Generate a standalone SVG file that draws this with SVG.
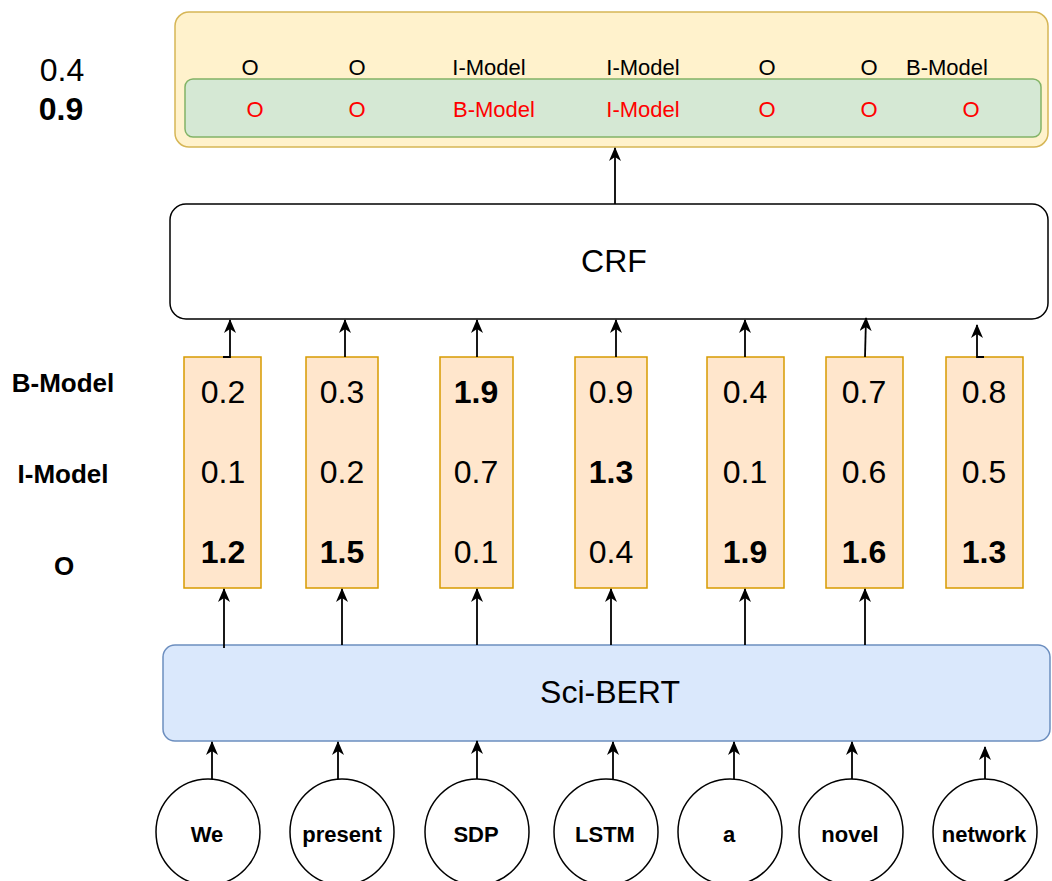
<svg xmlns="http://www.w3.org/2000/svg" width="1052" height="881" viewBox="0 0 1052 881">
<style>
text{font-family:"Liberation Sans",Arial,sans-serif;fill:#000;text-anchor:middle}
.big{font-size:32px}
.mid{font-size:22px}
.red{fill:#ff0000}
.lbl{font-size:26px;font-weight:bold}
.word{font-size:22px;font-weight:bold}
.b{font-weight:bold}
.score{fill:#ffe6cc;stroke:#d79b00;stroke-width:1.5}
.tok{fill:#fff;stroke:#000;stroke-width:1.5}
.edge{fill:none;stroke:#000;stroke-width:1.8;marker-end:url(#arr)}
</style>
<defs>
<marker id="arr" markerUnits="userSpaceOnUse" markerWidth="15" markerHeight="13" refX="13" refY="6" orient="auto">
<path d="M0,0 L14,6 L0,12 L4,6 z" fill="#000"/>
</marker>
</defs>
<rect width="1052" height="881" fill="#fff"/>

<g id="output">
<rect x="175" y="12" width="873" height="135" rx="14" fill="#fff2cc" stroke="#d6b656" stroke-width="1.5"/>
<text class="mid" x="250" y="75">O</text>
<text class="mid" x="357" y="75">O</text>
<text class="mid" x="489" y="75">I-Model</text>
<text class="mid" x="643" y="75">I-Model</text>
<text class="mid" x="767" y="75">O</text>
<text class="mid" x="869" y="75">O</text>
<text class="mid" x="947" y="75">B-Model</text>
</g>
<g id="best">
<rect x="185" y="79" width="856" height="58" rx="8" fill="#d5e8d4" stroke="#82b366" stroke-width="1.5"/>
<text class="mid red" x="255" y="117">O</text>
<text class="mid red" x="357" y="117">O</text>
<text class="mid red" x="494" y="117">B-Model</text>
<text class="mid red" x="643" y="117">I-Model</text>
<text class="mid red" x="767" y="117">O</text>
<text class="mid red" x="869" y="117">O</text>
<text class="mid red" x="971" y="117">O</text>
</g>
<g id="path-scores">
<text class="big" x="62" y="81">0.4</text>
<text class="big b" x="61" y="120">0.9</text>
</g>

<g id="crf">
<rect x="170" y="204" width="878" height="115" rx="16" fill="#fff" stroke="#000" stroke-width="1.5"/>
<text class="big" x="614" y="272">CRF</text>
</g>

<g id="labels">
<text class="lbl" x="63" y="392">B-Model</text>
<text class="lbl" x="63" y="483">I-Model</text>
<text class="lbl" x="64" y="575">O</text>
</g>

<g id="s1"><rect class="score" x="184" y="357" width="77" height="231"/>
<text class="big" x="223" y="403">0.2</text><text class="big" x="223" y="483">0.1</text><text class="big b" x="223" y="563">1.2</text></g>
<g id="s2"><rect class="score" x="306" y="357" width="72" height="231"/>
<text class="big" x="342" y="403">0.3</text><text class="big" x="342" y="483">0.2</text><text class="big b" x="342" y="563">1.5</text></g>
<g id="s3"><rect class="score" x="440" y="357" width="73" height="231"/>
<text class="big b" x="476" y="403">1.9</text><text class="big" x="476" y="483">0.7</text><text class="big" x="476" y="563">0.1</text></g>
<g id="s4"><rect class="score" x="575" y="357" width="72" height="231"/>
<text class="big" x="611" y="403">0.9</text><text class="big b" x="611" y="483">1.3</text><text class="big" x="611" y="563">0.4</text></g>
<g id="s5"><rect class="score" x="707" y="357" width="77" height="231"/>
<text class="big" x="745" y="403">0.4</text><text class="big" x="745" y="483">0.1</text><text class="big b" x="745" y="563">1.9</text></g>
<g id="s6"><rect class="score" x="826" y="357" width="77" height="231"/>
<text class="big" x="864" y="403">0.7</text><text class="big" x="864" y="483">0.6</text><text class="big b" x="864" y="563">1.6</text></g>
<g id="s7"><rect class="score" x="946" y="357" width="77" height="231"/>
<text class="big" x="984" y="403">0.8</text><text class="big" x="984" y="483">0.5</text><text class="big b" x="984" y="563">1.3</text></g>

<g id="scibert">
<rect x="163" y="645" width="887" height="96" rx="12" fill="#dae8fc" stroke="#6c8ebf" stroke-width="1.5"/>
<text class="big" x="610" y="703">Sci-BERT</text>
</g>

<g id="t1"><ellipse class="tok" cx="208" cy="832" rx="52" ry="53"/><text class="word" x="207" y="842">We</text></g>
<g id="t2"><ellipse class="tok" cx="342" cy="832" rx="52" ry="53"/><text class="word" x="342" y="842">present</text></g>
<g id="t3"><ellipse class="tok" cx="477" cy="832" rx="52" ry="53"/><text class="word" x="476" y="842">SDP</text></g>
<g id="t4"><ellipse class="tok" cx="606" cy="832" rx="52" ry="53"/><text class="word" x="605" y="842">LSTM</text></g>
<g id="t5"><ellipse class="tok" cx="730" cy="832" rx="52" ry="53"/><text class="word" x="729" y="842">a</text></g>
<g id="t6"><ellipse class="tok" cx="851" cy="832" rx="52" ry="53"/><text class="word" x="850" y="842">novel</text></g>
<g id="t7"><ellipse class="tok" cx="985" cy="832" rx="52" ry="53"/><text class="word" x="984" y="842">network</text></g>

<g id="connectors">
<path class="edge" d="M615,204 V148"/>
<path class="edge" d="M223,357 H230 V320"/>
<path class="edge" d="M345,357 V320"/>
<path class="edge" d="M477,357 V320"/>
<path class="edge" d="M616,357 V320"/>
<path class="edge" d="M745,357 V320"/>
<path class="edge" d="M865,357 L866,318"/>
<path class="edge" d="M984,357 H977 V325"/>
<path class="edge" d="M224,648 V589"/>
<path class="edge" d="M342,645 V589"/>
<path class="edge" d="M477,645 V589"/>
<path class="edge" d="M611,645 V589"/>
<path class="edge" d="M745,645 V589"/>
<path class="edge" d="M865,645 V589"/>
<path class="edge" d="M212,779 V742"/>
<path class="edge" d="M338,779 V742"/>
<path class="edge" d="M477,779 V741"/>
<path class="edge" d="M613,779 V742"/>
<path class="edge" d="M734,779 V742"/>
<path class="edge" d="M852,779 V742"/>
<path class="edge" d="M985,779 V747"/>
</g>
</svg>
